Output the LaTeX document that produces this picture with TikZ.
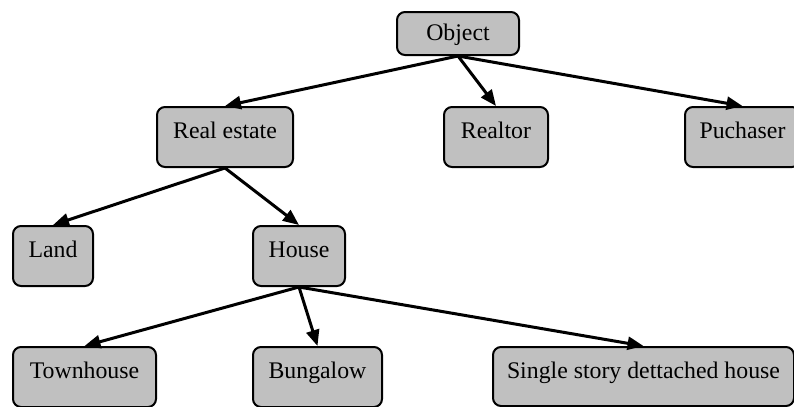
\documentclass[tikz,border=0pt]{standalone}
\usepackage{fontspec}
\setmainfont{Liberation Serif}
\usetikzlibrary{arrows.meta}
\definecolor{boxgray}{RGB}{192,192,192}
\tikzset{
  box/.style={draw=black, fill=boxgray, line width=1pt, rounded corners=4pt,
    inner sep=0pt, anchor=north west, align=center,
    font=\fontsize{11.9}{14}\selectfont,
    text height=15.5pt, text depth=14.5pt},
  topbox/.style={box, text height=14pt, text depth=7.5pt},
  link/.style={line width=1.5pt, -{Triangle[length=8pt,width=6.5pt]}}
}
\begin{document}
\begin{tikzpicture}[x=0.5pt, y=-0.5pt]
  \useasboundingbox (0,0) rectangle (794,407);
  % first row
  \node[topbox, minimum width=61pt] (object) at (396,11) {Object};
  % second row
  \node[box, minimum width=68pt] (real) at (156,106) {Real estate};
  \node[box, minimum width=52pt] (realtor) at (443,106) {Realtor};
  \node[box, minimum width=57.5pt] (buyer) at (684,106) {Puchaser};
  % third row
  \node[box, minimum width=40pt] (land) at (12,225) {Land};
  \node[box, minimum width=46pt] (house) at (252,225) {House};
  % fourth row
  \node[box, minimum width=71.5pt] (town) at (12,346) {Townhouse};
  \node[box, minimum width=64.5pt] (bung) at (252,346) {Bungalow};
  \node[box, minimum width=150.5pt, text depth=14pt] (single) at (492,346) {Single story dettached house};
  % connectors
  \draw[link] (object.south) -- (real.north);
  \draw[link] (object.south) -- (realtor.north);
  \draw[link] (object.south) -- (buyer.north);
  \draw[link] (real.south) -- (land.north);
  \draw[link] (real.south) -- (house.north);
  \draw[link] (house.south) -- (town.north);
  \draw[link] (house.south) -- (bung.north);
  \draw[link] (house.south) -- (single.north);
\end{tikzpicture}
\end{document}
